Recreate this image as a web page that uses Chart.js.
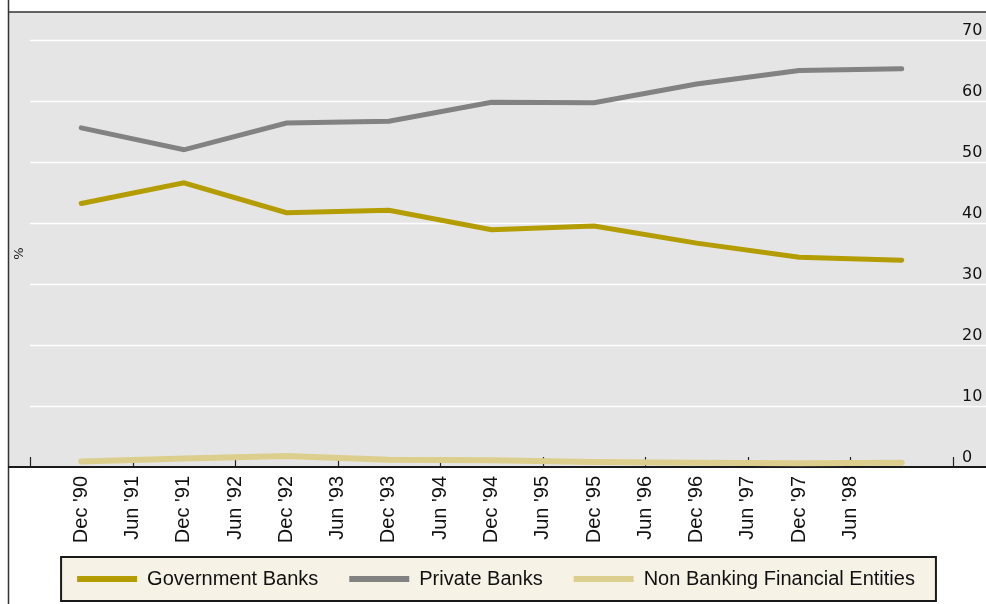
<!DOCTYPE html>
<html>
<head>
<meta charset="utf-8">
<script src="https://cdn.jsdelivr.net/npm/chart.js@4.4.1/dist/chart.umd.min.js"></script>
<style>
  html, body { margin: 0; padding: 0; background: #fff; }
  #wrap { width: 986px; height: 604px; }
</style>
</head>
<body>
<div id="wrap"><canvas id="chart" width="986" height="604"></canvas></div>
<script>
// Half-year positions on the time axis, Jun '90 .. Jun '99
const periods = [
  "Jun '90", "Dec '90", "Jun '91", "Dec '91", "Jun '92", "Dec '92", "Jun '93",
  "Dec '93", "Jun '94", "Dec '94", "Jun '95", "Dec '95", "Jun '96", "Dec '96",
  "Jun '97", "Dec '97", "Jun '98", "Dec '98", "Jun '99"
];
// Only these get a printed label
const shownFrom = "Dec '90";
const shownTo = "Jun '98";

// Year-end observations (% share)
const obsDates = ["Dec '90", "Dec '91", "Dec '92", "Dec '93", "Dec '94", "Dec '95", "Dec '96", "Dec '97", "Dec '98"];
const governmentBanks = [43.2, 46.6, 41.7, 42.1, 38.9, 39.5, 36.7, 34.4, 33.9];
const privateBanks = [55.6, 52.0, 56.4, 56.7, 59.8, 59.7, 62.8, 65.0, 65.3];
const nonBanking = [0.9, 1.4, 1.8, 1.2, 1.1, 0.8, 0.7, 0.6, 0.7];

const yTicks = [0, 10, 20, 30, 40, 50, 60, 70];

const GOLD = '#b49d00';
const GREY = '#828282';
const PALE = '#dccf8e';

const series = (label, values, color, width) => ({
  label,
  data: obsDates.map((d, i) => ({ x: d, y: values[i] })),
  borderColor: color,
  backgroundColor: color,
  borderWidth: width,
  borderCapStyle: 'round',
  borderJoinStyle: 'miter',
  pointRadius: 0,
  tension: 0,
  fill: false
});

// Grey panel, white gridlines, frame, inward ticks and the legend box
const framePlugin = {
  id: 'frame',
  afterLayout(chart) {
    // pull the legend a bit left and up
    const lg = chart.legend;
    if (lg) {
      lg.left -= 12; lg.right -= 12;
      lg.top -= 5; lg.bottom -= 5;
    }
  },
  beforeDraw(chart) {
    const { ctx, chartArea: a, scales: { y } } = chart;
    const W = chart.width;
    ctx.save();
    ctx.fillStyle = '#fff';
    ctx.fillRect(0, 0, W, chart.height);

    ctx.fillStyle = '#e5e5e5';
    ctx.fillRect(8, 12, W - 8, a.bottom - 12);

    ctx.strokeStyle = '#fff';
    ctx.lineWidth = 1.5;
    yTicks.forEach(v => {
      if (v === 0) return;
      const py = Math.round(y.getPixelForValue(v)) + 0.5;
      ctx.beginPath();
      ctx.moveTo(a.left, py);
      ctx.lineTo(W, py);
      ctx.stroke();
    });

    // legend panel
    const lg = chart.legend;
    if (lg && lg.legendHitBoxes.length) {
      const hb = lg.legendHitBoxes;
      const first = hb[0], last = hb[hb.length - 1];
      const bx = first.left - 16;
      const bw = last.left + last.width + 21 - bx;
      const by = first.top - 12;
      const bh = first.height + 24;
      ctx.fillStyle = '#f6f2e6';
      ctx.fillRect(bx, by, bw, bh);
      ctx.strokeStyle = '#1a1a1a';
      ctx.lineWidth = 2;
      ctx.strokeRect(bx, by, bw, bh);
    }

    // unit label
    ctx.fillStyle = '#222';
    ctx.font = '13px "DejaVu Sans"';
    ctx.textAlign = 'center';
    ctx.textBaseline = 'middle';
    ctx.translate(a.left - 10, (a.top + a.bottom) / 2);
    ctx.rotate(-Math.PI / 2);
    ctx.fillText('%', 0, 0);
    ctx.restore();
  },
  beforeDatasetsDraw(chart) {
    const { ctx, chartArea: a, scales: { x } } = chart;
    const W = chart.width;
    ctx.save();
    ctx.strokeStyle = '#333';
    ctx.lineWidth = 1.5;
    ctx.beginPath();
    ctx.moveTo(8.5, 0);
    ctx.lineTo(8.5, chart.height);
    ctx.moveTo(8, 12);
    ctx.lineTo(W, 12);
    ctx.stroke();

    ctx.strokeStyle = '#222';
    ctx.lineWidth = 1.2;
    periods.forEach((p, i) => {
      if (!p.startsWith('Jun')) return;
      const px = Math.round(x.getPixelForValue(i)) + 0.5;
      ctx.beginPath();
      ctx.moveTo(px, a.bottom - 10);
      ctx.lineTo(px, a.bottom);
      ctx.stroke();
    });

    ctx.strokeStyle = '#1a1a1a';
    ctx.lineWidth = 2;
    ctx.beginPath();
    ctx.moveTo(8, a.bottom);
    ctx.lineTo(W, a.bottom);
    ctx.stroke();
    ctx.restore();
  }
};

const i0 = periods.indexOf(shownFrom);
const i1 = periods.indexOf(shownTo);

new Chart(document.getElementById('chart'), {
  type: 'line',
  data: {
    labels: periods,
    datasets: [
      series('Government Banks', governmentBanks, GOLD, 5),
      series('Private Banks', privateBanks, GREY, 5),
      series('Non Banking Financial Entities', nonBanking, PALE, 6)
    ]
  },
  options: {
    responsive: false,
    animation: false,
    events: [],
    layout: { padding: { left: 30, top: 40, right: 0, bottom: 0 } },
    plugins: {
      tooltip: { enabled: false },
      legend: {
        position: 'bottom',
        labels: {
          boxWidth: 60,
          boxHeight: 6,
          padding: 31,
          color: '#111',
          font: { family: '"Liberation Sans"', size: 20 },
          generateLabels: chart =>
            Chart.defaults.plugins.legend.labels.generateLabels(chart)
              .map(it => ({ ...it, lineWidth: 0, fillStyle: it.strokeStyle }))
        }
      }
    },
    scales: {
      x: {
        type: 'category',
        offset: false,
        grid: { display: false, drawTicks: false },
        border: { display: false },
        ticks: {
          autoSkip: false,
          minRotation: 90,
          maxRotation: 90,
          padding: 9,
          color: '#111',
          font: { family: '"Liberation Sans"', size: 20 },
          callback(v, i) {
            return (i >= i0 && i <= i1) ? this.getLabelForValue(v) : '';
          }
        },
        afterFit(s) { s.height = 76; }
      },
      y: {
        position: 'right',
        min: 0,
        max: 70,
        grid: { display: false, drawTicks: false },
        border: { display: false },
        afterBuildTicks(s) { s.ticks = yTicks.map(v => ({ value: v })); },
        ticks: {
          padding: 9,
          labelOffset: -9,
          color: '#111',
          font: { family: '"DejaVu Sans"', size: 16 }
        },
        afterFit(s) { s.width = 33; }
      }
    }
  },
  plugins: [framePlugin]
});
</script>
</body>
</html>
